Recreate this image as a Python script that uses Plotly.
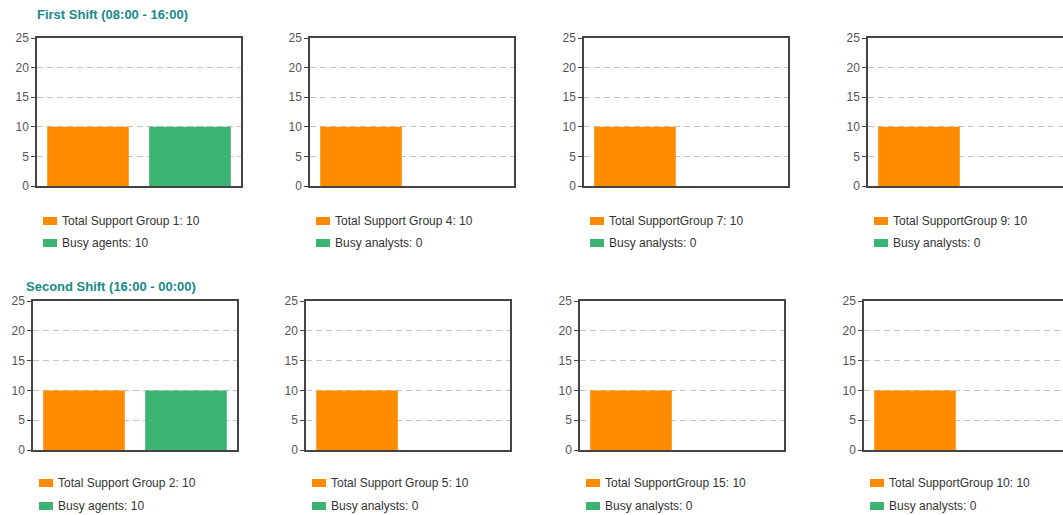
import plotly.graph_objects as go
from plotly.subplots import make_subplots

# ---- data ----
shift_titles = ["First Shift (08:00 - 16:00)", "Second Shift (16:00 - 00:00)"]
categories = ["total", "busy"]
total_labels = [
    "Total Support Group 1", "Total Support Group 4", "Total SupportGroup 7", "Total SupportGroup 9",
    "Total Support Group 2", "Total Support Group 5", "Total SupportGroup 15", "Total SupportGroup 10",
]
total_values = [10, 10, 10, 10, 10, 10, 10, 10]
busy_labels = [
    "Busy agents", "Busy analysts", "Busy analysts", "Busy analysts",
    "Busy agents", "Busy analysts", "Busy analysts", "Busy analysts",
]
busy_values = [10, 0, 0, 0, 10, 0, 0, 0]
y_ticks = [0, 5, 10, 15, 20, 25]

# ---- page geometry (pixels) ----
W, H = 1063, 515
ORANGE, GREEN = "#FF8C00", "#3CB371"
TEAL = "#178A8A"
FONT = "Liberation Sans"
plot_w = 204
col_left = [[37, 310, 584, 868], [33, 306, 580, 864]]
row_top_bottom = [(38, 186), (301, 450)]
legend_rows = [(221, 243), (483, 506)]   # vertical centres of the two key entries
title_pos = [(35, 14), (24, 286)]


def px(x):
    return x / W


def py(y):
    return 1 - y / H


fig = make_subplots(rows=2, cols=4)

for r in range(2):
    for c in range(4):
        k = r * 4 + c
        series = [
            (categories[0], total_values[k], ORANGE, f"{total_labels[k]}: {total_values[k]}"),
            (categories[1], busy_values[k], GREEN, f"{busy_labels[k]}: {busy_values[k]}"),
        ]
        left = col_left[r][c]
        right = min(left + plot_w, W)
        top, bottom = row_top_bottom[r]
        band = plot_w / len(categories)
        xr = [-0.5, -0.5 + (right - left) / band]
        last = right < left + plot_w

        for (cat, val, color, label), yc in zip(series, legend_rows[r]):
            fig.add_trace(go.Bar(x=[cat], y=[val], marker_color=color, marker_line_width=0,
                                 name=label, showlegend=False, hoverinfo="skip"),
                          row=r + 1, col=c + 1)
            # key swatch + label under the panel
            fig.add_shape(type="rect", xref="paper", yref="paper",
                          x0=px(left + 6), x1=px(left + 20), y0=py(yc + 4), y1=py(yc - 4),
                          fillcolor=color, line_width=0)
            fig.add_annotation(x=px(left + 23), y=py(yc), xref="paper", yref="paper",
                               xanchor="left", yanchor="middle", showarrow=False, text=label,
                               font=dict(family=FONT, size=12, color="#333"))

        fig.update_xaxes(domain=[px(left), px(right)], range=xr, showticklabels=False,
                         showgrid=False, showline=True, linecolor="#444", linewidth=1.5,
                         mirror=True, zeroline=False, fixedrange=True,
                         categoryorder="array", categoryarray=categories,
                         row=r + 1, col=c + 1)
        fig.update_yaxes(domain=[py(bottom), py(top)], range=[0, 25],
                         tickvals=y_ticks, ticks="outside", ticklen=4, tickcolor="#444",
                         tickfont=dict(family=FONT, size=12, color="#555"),
                         showgrid=True, gridcolor="#C4C4C4", griddash="6px,4px", gridwidth=1,
                         showline=True, linecolor="#444", linewidth=1.5,
                         mirror=not last, zeroline=False, fixedrange=True,
                         row=r + 1, col=c + 1)

for r in range(2):
    tx, ty = title_pos[r]
    fig.add_annotation(x=px(tx), y=py(ty), xref="paper", yref="paper",
                       xanchor="left", yanchor="middle", showarrow=False,
                       text=f"<b>{shift_titles[r]}</b>",
                       font=dict(family=FONT, size=13, color=TEAL))

fig.update_layout(width=W, height=H,
                  margin=dict(l=0, r=0, t=0, b=0, autoexpand=False),
                  plot_bgcolor="white", paper_bgcolor="white",
                  bargap=0.2, barmode="overlay", showlegend=False)

fig.write_html("out.html", config={"displayModeBar": False})
